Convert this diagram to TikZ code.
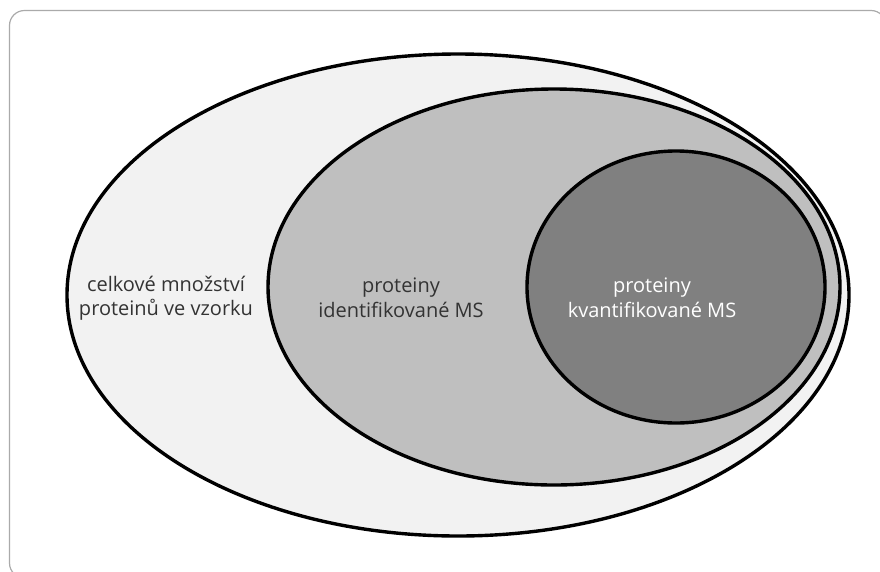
\documentclass[tikz,border=0pt]{standalone}
\usepackage{fontspec}
\setmainfont{Open Sans}
\usetikzlibrary{shapes.geometric}
\definecolor{outerfill}{HTML}{F2F2F2}
\definecolor{midfill}{HTML}{BFBFBF}
\definecolor{innerfill}{HTML}{808080}
\definecolor{framegray}{HTML}{AAAAAA}
\definecolor{txtgray}{HTML}{333333}
\begin{document}
\begin{tikzpicture}[x=1pt,y=-1pt,
  setshape/.style={ellipse, draw=black, line width=3.4pt, inner sep=0pt},
  lbl/.style={align=center, font=\fontsize{20}{24.5}\selectfont, text=txtgray, inner sep=0pt}]
\useasboundingbox (0,0) rectangle (880,571);
\clip (0,0) rectangle (880,571);
\draw[framegray, line width=1.2pt, rounded corners=15pt] (9.5,10.5) rectangle (886,578);
\node[setshape, fill=outerfill, minimum width=782pt, minimum height=482pt] (outer) at (458,295) {};
\node[setshape, fill=midfill, minimum width=572pt, minimum height=396pt] (middle) at (554,287) {};
\node[setshape, fill=innerfill, minimum width=298pt, minimum height=272pt] (inner) at (676,287) {};
\node[lbl] (t1) at (166,298) {celkové množství\\proteinů ve vzorku};
\node[lbl] (t2) at (401,298) {proteiny\\identifikované MS};
\node[lbl, text=white] (t3) at (652,298) {proteiny\\kvantifikované MS};
\end{tikzpicture}
\end{document}
